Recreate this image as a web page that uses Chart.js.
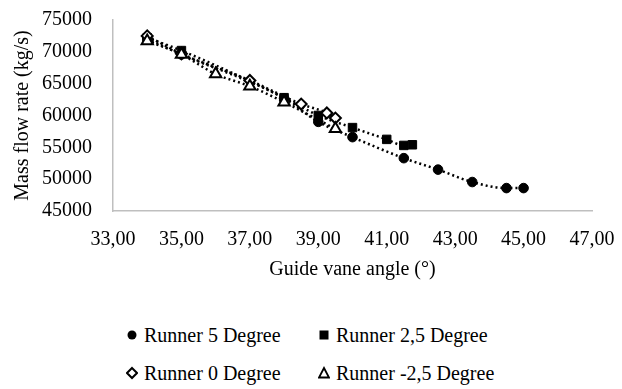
<!DOCTYPE html>
<html>
<head>
<meta charset="utf-8">
<script src="https://cdn.jsdelivr.net/npm/chart.js@4.4.1/dist/chart.umd.min.js"></script>
<style>
  html, body { margin: 0; padding: 0; background: #fff; }
  #wrap { position: relative; width: 622px; height: 389px; overflow: hidden; }
  #chart { position: absolute; left: 0; top: 0; }
  .leg-item { position: absolute; display: flex; align-items: center; gap: 6px;
    font: 20px "Liberation Serif", "Times New Roman", serif; line-height: 20px; color: #000; white-space: nowrap; }
</style>
</head>
<body>
<div id="wrap">
  <canvas id="chart" width="622" height="300"></canvas>
  <div id="legend"></div>
</div>
<script>
// series names
const seriesNames = ["Runner 5 Degree", "Runner 2,5 Degree", "Runner 0 Degree", "Runner -2,5 Degree"];

// guide vane angle (deg) / mass flow rate (kg/s)
const angle5 = [34.0, 35.0, 38.0, 39.0, 40.0, 41.5, 42.5, 43.5, 44.5, 45.0];
const flow5  = [72000, 69600, 62700, 59000, 56600, 53300, 51500, 49550, 48600, 48600];

const angle25 = [34.0, 35.0, 38.0, 39.0, 40.0, 41.0, 41.5, 41.75];
const flow25  = [72200, 70200, 62800, 60000, 58100, 56250, 55300, 55400];

const angle0 = [34.0, 35.0, 37.0, 38.5, 39.25, 39.5];
const flow0  = [72500, 69700, 65500, 61800, 60400, 59600];

const angleM25 = [34.0, 35.0, 36.0, 37.0, 38.0, 39.5];
const flowM25  = [71700, 69600, 66500, 64600, 62100, 57900];

// axis ticks
const xMin = 33, xMax = 47, xStep = 2;
const yMin = 45000, yMax = 75000, yStep = 5000;

const FONT = { family: '"Liberation Serif", "Times New Roman", serif', size: 20 };

// marker styles per series
const markers = [
    { pointStyle: "circle",   radius: 4.8, fill: "#000", border: 1 },
    { pointStyle: "rect",     radius: 6,   fill: "#000", border: 1 },
    { pointStyle: "rectRot",  radius: 5.5, fill: "#fff", border: 2 },
    { pointStyle: "triangle", radius: 6.5, fill: "#fff", border: 2 }
];

function pts(xs, ys) {
    return xs.map((x, i) => ({ x: x, y: ys[i] }));
}

const allData = [pts(angle5, flow5), pts(angle25, flow25), pts(angle0, flow0), pts(angleM25, flowM25)];

let datasets = allData.map((d, i) => ({
    label: seriesNames[i],
    data: d,
    showLine: true,
    borderColor: "#000",
    borderWidth: 2.5,
    borderDash: [2, 3],
    cubicInterpolationMode: "monotone",
    pointStyle: markers[i].pointStyle,
    pointRadius: markers[i].radius,
    pointBackgroundColor: markers[i].fill,
    pointBorderColor: "#000",
    pointBorderWidth: markers[i].border,
    order: 4 - i
}));

new Chart(document.getElementById("chart").getContext("2d"), {
    type: "scatter",
    data: { datasets: datasets },
    options: {
        responsive: false,
        animation: false,
        layout: { padding: { left: 0, right: 30, top: 20, bottom: 0 } },
        plugins: { legend: { display: false }, tooltip: { enabled: false } },
        scales: {
            x: {
                type: "linear", min: xMin, max: xMax,
                ticks: {
                    stepSize: xStep, font: FONT, color: "#000", padding: 17,
                    callback: function (v) { return v.toFixed(2).replace(".", ","); }
                },
                grid: { display: false, drawTicks: false },
                border: { color: "#bfbfbf", width: 1.5 },
                title: { display: true, text: "Guide vane angle (°)", font: FONT, color: "#000", padding: { top: 0, bottom: 18 } },
                afterFit: function (s) { s.height = 89; s.paddingLeft = 0; s.paddingRight = 0; }
            },
            y: {
                type: "linear", min: yMin, max: yMax,
                ticks: {
                    stepSize: yStep, font: FONT, color: "#000", padding: 21,
                    callback: function (v) { return String(v); }
                },
                grid: { display: false, drawTicks: false },
                border: { color: "#bfbfbf", width: 1.5 },
                title: { display: true, text: "Mass flow rate (kg/s)", font: FONT, color: "#000", padding: { top: 11, bottom: 0 } },
                afterFit: function (s) { s.width = 113; s.paddingTop = 0; s.paddingBottom = 0; }
            }
        }
    }
});

// legend, 2 x 2 like the original
function markerSvg(m) {
    let s = '<svg width="12" height="14" viewBox="0 0 12 14">';
    if (m.pointStyle === "circle") s += '<circle cx="6" cy="7" r="4.5" fill="#000"/>';
    if (m.pointStyle === "rect") s += '<rect x="1.5" y="2.5" width="9" height="9" fill="#000"/>';
    if (m.pointStyle === "rectRot") s += '<polygon points="6,2 11,7 6,12 1,7" fill="#fff" stroke="#000" stroke-width="2"/>';
    if (m.pointStyle === "triangle") s += '<polygon points="6,2 11,11.5 1,11.5" fill="#fff" stroke="#000" stroke-width="1.8"/>';
    return s + "</svg>";
}

let colLeft = [126, 318];
let rowTop = [325, 363];
document.getElementById("legend").innerHTML = seriesNames.map((name, i) =>
    `<div class="leg-item" style="left:${colLeft[i % 2]}px;top:${rowTop[Math.floor(i / 2)]}px">${markerSvg(markers[i])}<span>${name}</span></div>`
).join("");
</script>
</body>
</html>
